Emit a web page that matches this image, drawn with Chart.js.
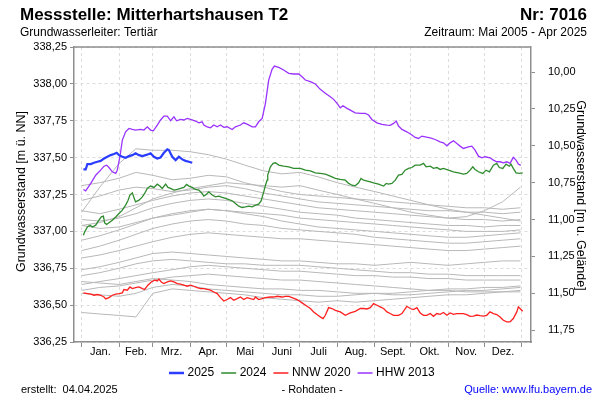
<!DOCTYPE html>
<html><head><meta charset="utf-8">
<script src="https://cdn.jsdelivr.net/npm/chart.js@4.4.1/dist/chart.umd.min.js"></script>
<style>html,body{margin:0;padding:0;background:#fff}#wrap{width:600px;height:400px}</style>
</head><body><div id="wrap"><canvas id="c" width="600" height="400"></canvas></div>
<script>
// ---- axis / labels ----
const GROUND = 348.08;
const monthNames = ['Jan.','Feb.','Mrz.','Apr.','Mai','Juni','Juli','Aug.','Sept.','Okt.','Nov.','Dez.'];
const monthStarts = [0,31,59,90,120,151,181,212,243,273,304,334,365];
const leftTicks = [336.25,336.5,336.75,337.0,337.25,337.5,337.75,338.0,338.25];
const rightTicks = [10.0,10.25,10.5,10.75,11.0,11.25,11.5,11.75];

// ---- highlighted series: [day of year, level m ü. NN] ----
const s2025 = [[1.4,337.42],[3.3,337.42],[4.7,337.456],[7.5,337.456],[10.2,337.465],[13,337.472],[15.7,337.478],[18.5,337.494],[21.3,337.506],[24,337.517],[26.8,337.524],[29,337.533],[30.9,337.517],[33.7,337.506],[36.4,337.499],[39.2,337.51],[42,337.517],[44.7,337.529],[47.5,337.517],[50.3,337.51],[53,337.517],[55.7,337.524],[57.1,337.529],[59.9,337.506],[62.7,337.494],[65.4,337.501],[68.2,337.533],[71,337.556],[72.3,337.551],[75.1,337.506],[77.9,337.483],[80.6,337.506],[83.4,337.488],[86.1,337.478],[88.9,337.472],[91.7,337.465]];

const s2024 = [[1.4,336.974],[2.5,336.997],[4.7,337.03],[6.9,337.042],[8.9,337.03],[11.6,337.042],[14.3,337.076],[16.3,337.098],[18,337.103],[19,337.058],[20.7,337.047],[22.6,337.058],[25.4,337.076],[28.2,337.098],[30.9,337.121],[33.7,337.144],[36.4,337.178],[38.3,337.207],[40,337.246],[42,337.261],[43.3,337.23],[44.7,337.2],[47.5,337.212],[50.3,337.234],[52.2,337.257],[54.4,337.291],[57.1,337.307],[59.9,337.298],[62.7,337.32],[64.8,337.307],[66.8,337.291],[69.6,337.32],[71.5,337.298],[73.7,337.291],[76.5,337.28],[79.3,337.284],[82,337.291],[84.7,337.298],[87,337.318],[88.9,337.307],[91.7,337.298],[94.4,337.284],[97.2,337.28],[99.9,337.257],[101.3,337.239],[103.5,337.252],[105.4,337.268],[108.2,337.246],[111,337.234],[113.7,337.239],[116.5,337.23],[119.3,337.223],[122,337.216],[124.8,337.207],[127.5,337.189],[130.3,337.171],[133.1,337.162],[135.8,337.166],[138.6,337.171],[141.4,337.166],[144.1,337.178],[146.8,337.184],[148.8,337.207],[151,337.268],[152.4,337.313],[153.8,337.347],[154.3,337.381],[156.5,337.438],[158.8,337.461],[160.7,337.465],[163.4,337.449],[167.5,337.442],[171.7,337.438],[175.8,337.427],[181.4,337.427],[185.5,337.415],[189.7,337.41],[193.8,337.397],[197.9,337.393],[202.1,337.388],[206.2,337.375],[210.4,337.359],[214.5,337.352],[218.7,337.347],[221.4,337.325],[224.2,337.313],[226.9,337.309],[229.7,337.329],[231.7,337.359],[233.8,337.347],[236.1,337.343],[239.4,337.336],[242.1,337.329],[246.2,337.32],[250.4,337.307],[252.6,337.325],[254.5,337.32],[257.3,337.325],[260.1,337.347],[262.8,337.381],[265.6,337.386],[268.3,337.415],[271.1,337.427],[273.9,337.433],[276.6,337.449],[280.8,337.449],[283.5,337.461],[285.7,337.438],[289.1,337.442],[291.8,337.427],[294.6,337.433],[297.3,337.42],[300.1,337.427],[304.2,337.415],[308.4,337.404],[312.5,337.397],[316.6,337.388],[319.4,337.393],[322.2,337.415],[324.4,337.438],[326.3,337.42],[329.1,337.404],[332.7,337.393],[335.4,337.415],[338.2,337.404],[341.5,337.449],[344.3,337.461],[346.4,337.433],[349.3,337.427],[352,337.456],[354.7,337.442],[356.1,337.456],[358,337.427],[360.3,337.397],[363,337.393],[365.8,337.397]];

const sNNW2020 = [[1.4,336.583],[4.7,336.578],[7.5,336.574],[10.2,336.567],[13,336.572],[15.7,336.567],[18.5,336.555],[19.9,336.542],[22.6,336.551],[25.4,336.567],[28.2,336.574],[30.9,336.578],[33.7,336.583],[35,336.606],[37.8,336.601],[40,336.623],[42,336.612],[44.7,336.619],[47.5,336.623],[50.3,336.612],[52.2,336.606],[54.9,336.635],[57.7,336.657],[60.5,336.669],[62.7,336.664],[64,336.677],[66,336.657],[68.2,336.646],[71,336.657],[73.7,336.664],[76.5,336.657],[79.3,336.646],[82,336.642],[84.7,336.635],[87.5,336.628],[90.3,336.635],[93,336.628],[95.8,336.619],[98.6,336.612],[101.3,336.612],[104.1,336.606],[106.8,336.601],[109.6,336.589],[112.4,336.578],[115.1,336.551],[117.9,336.528],[120.6,336.538],[123.4,336.551],[126.1,336.533],[129,336.544],[131.7,336.555],[134.4,336.538],[137.2,336.551],[140,336.544],[142.7,336.538],[144.1,336.555],[146.8,336.538],[149.7,336.544],[152.4,336.551],[156.5,336.555],[159.3,336.555],[162.1,336.56],[166.2,336.555],[169,336.56],[171.7,336.56],[174.5,336.551],[178.6,336.538],[182.8,336.515],[186.9,336.492],[189.7,336.477],[192.4,336.454],[195.2,336.436],[197.9,336.42],[200.2,336.409],[202.1,336.431],[204.8,336.483],[207.6,336.477],[210.4,336.465],[214.5,336.454],[218.7,336.431],[222.8,336.447],[226.9,336.458],[231.1,336.477],[233.8,336.477],[236.6,336.474],[239.4,336.483],[242.1,336.511],[244.9,336.499],[247.6,336.488],[250.4,336.477],[253.2,336.454],[255.9,336.443],[258.7,336.431],[262.8,336.431],[265.6,336.443],[269.7,336.492],[272.5,336.477],[275.2,336.47],[278,336.483],[280.8,336.447],[283.5,336.431],[286.3,336.431],[289.1,336.443],[291.8,336.424],[294.6,336.443],[297.3,336.438],[300.1,336.45],[302.9,336.431],[305.6,336.447],[308.4,336.438],[311.2,336.443],[313.9,336.443],[316.6,336.443],[319.4,336.436],[322.2,336.424],[324.9,336.426],[327.7,336.433],[330.5,336.429],[333.2,336.426],[336,336.431],[338.7,336.454],[341.5,336.443],[344.3,336.436],[347,336.42],[349.8,336.397],[352.6,336.386],[355.3,336.386],[358,336.409],[360.9,336.454],[362.2,336.488],[363.6,336.477],[365.8,336.458]];

const sHHW2013 = [[1.4,337.284],[3.3,337.275],[7.5,337.325],[11.6,337.381],[15.7,337.415],[18.5,337.442],[20.7,337.449],[22.6,337.433],[25.4,337.404],[28.2,337.393],[29.5,337.415],[31.7,337.506],[33.7,337.619],[36.4,337.675],[39.2,337.698],[42,337.691],[44.7,337.687],[48.9,337.691],[51.6,337.687],[54.4,337.709],[57.1,337.687],[59.4,337.682],[62.7,337.721],[65.4,337.755],[68.2,337.782],[71,337.782],[73.7,337.75],[76.5,337.777],[78.7,337.75],[82,337.759],[84.7,337.755],[87.5,337.766],[90.3,337.759],[94.4,337.748],[97.2,337.736],[99.9,337.743],[101.3,337.721],[104.1,337.709],[106.8,337.702],[109.6,337.721],[112.4,337.709],[115.1,337.721],[117.9,337.705],[120.6,337.709],[124.8,337.691],[127.5,337.709],[131.7,337.721],[134.4,337.736],[137.2,337.727],[141.4,337.709],[144.1,337.709],[146.8,337.743],[149.7,337.766],[152.4,337.868],[155.1,338.026],[157.9,338.099],[159.8,338.121],[163.4,338.112],[167.5,338.094],[171.7,338.071],[175.8,338.067],[180,338.067],[182.8,338.048],[185.5,338.026],[189.7,338.015],[193.8,337.999],[197.9,337.963],[202.1,337.936],[206.2,337.913],[209,337.895],[211.8,337.868],[214.5,337.838],[216.7,337.852],[220.1,337.834],[222.8,337.822],[226.9,337.804],[231.1,337.8],[235.2,337.8],[238,337.789],[240.7,337.759],[244.9,337.736],[249,337.725],[253.2,337.721],[255.9,337.719],[258.7,337.732],[260.9,337.748],[262.8,337.714],[265.6,337.691],[269.7,337.675],[273.9,337.653],[276.6,337.637],[279.4,337.63],[282.2,337.646],[284.9,337.641],[289.1,337.634],[293.2,337.623],[297.3,337.607],[300.1,337.6],[302.9,337.58],[305.6,337.6],[308.4,337.614],[311.2,337.596],[313.9,337.578],[316.6,337.562],[320.8,337.573],[323.6,337.578],[326.3,337.551],[329.1,337.51],[331.9,337.499],[334.6,337.506],[338.7,337.499],[341.5,337.483],[344.3,337.472],[347,337.472],[349.8,337.465],[352.6,337.472],[355.3,337.461],[358,337.502],[360.3,337.483],[362.2,337.456],[364.2,337.447]];

// ---- other years (grey), sampled on greyDays ----
const greyDays = [0,15,31,45,59,75,90,105,120,135,151,166,181,196,212,227,243,258,273,288,304,319,334,349,364];
const grey01 = [337.13,337.30,337.46,337.56,337.55,337.55,337.54,337.52,337.49,337.45,337.41,337.39,337.40,337.37,337.33,337.30,337.27,337.24,337.21,337.18,337.15,337.13,337.11,337.09,337.07];
const grey02 = [337.04,337.06,337.10,337.16,337.22,337.26,337.29,337.31,337.33,337.32,337.31,337.30,337.31,337.28,337.25,337.22,337.19,337.16,337.13,337.11,337.09,337.10,337.14,337.20,337.30];
const grey03 = [337.31,337.33,337.36,337.40,337.38,337.35,337.36,337.38,337.37,337.33,337.30,337.27,337.25,337.24,337.23,337.22,337.21,337.20,337.19,337.18,337.17,337.16,337.16,337.15,337.16];
const grey04 = [337.21,337.24,337.28,337.30,337.29,337.27,337.28,337.30,337.31,337.29,337.26,337.24,337.22,337.20,337.19,337.18,337.17,337.16,337.15,337.14,337.14,337.13,337.13,337.12,337.13];
const grey05 = [337.14,337.12,337.15,337.18,337.21,337.24,337.26,337.27,337.26,337.24,337.22,337.20,337.18,337.16,337.15,337.14,337.13,337.12,337.11,337.10,337.09,337.08,337.08,337.07,337.08];
const grey06 = [337.08,337.07,337.09,337.12,337.16,337.19,337.21,337.22,337.21,337.19,337.17,337.15,337.13,337.12,337.11,337.09,337.08,337.07,337.06,337.05,337.04,337.04,337.03,337.04,337.04];
const grey07 = [337.04,337.02,337.03,337.06,337.09,337.11,337.13,337.15,337.14,337.13,337.12,337.11,337.09,337.08,337.07,337.06,337.05,337.04,337.03,337.02,337.01,337.00,337.00,337.00,337.01];
const grey08 = [336.94,336.97,337.01,337.05,337.09,337.12,337.14,337.15,337.14,337.12,337.10,337.07,337.05,337.03,337.02,337.01,337.00,336.99,336.98,336.97,336.96,336.96,336.97,336.98,336.99];
const grey09 = [336.87,336.90,336.94,336.98,337.02,337.05,337.07,337.08,337.07,337.05,337.04,337.02,337.01,337.00,336.99,336.98,336.96,336.95,336.94,336.93,336.92,336.92,336.93,336.94,336.95];
const grey10 = [336.82,336.84,336.87,336.90,336.93,336.96,336.98,336.99,336.98,336.97,336.96,336.95,336.95,336.94,336.93,336.92,336.91,336.90,336.89,336.88,336.87,336.87,336.88,336.89,336.90];
const grey11 = [336.74,336.76,336.79,336.82,336.85,336.86,336.85,336.84,336.83,336.82,336.81,336.80,336.80,336.79,336.78,336.78,336.77,336.78,336.79,336.78,336.77,336.78,336.79,336.80,336.80];
const grey12 = [336.70,336.72,336.75,336.78,336.80,336.81,336.80,336.79,336.78,336.78,336.77,336.77,336.77,336.76,336.75,336.74,336.73,336.72,336.72,336.71,336.71,336.70,336.70,336.70,336.70];
const grey13 = [336.64,336.66,336.68,336.70,336.72,336.74,336.76,336.77,336.76,336.75,336.74,336.73,336.73,336.72,336.71,336.70,336.70,336.69,336.69,336.68,336.68,336.67,336.67,336.67,336.67];
const grey14 = [336.60,336.62,336.63,336.65,336.67,336.69,336.70,336.71,336.70,336.69,336.68,336.67,336.67,336.66,336.65,336.64,336.63,336.62,336.61,336.60,336.60,336.59,336.59,336.59,336.59];
const grey15 = [336.66,336.65,336.64,336.66,336.68,336.67,336.66,336.64,336.63,336.62,336.61,336.61,336.60,336.60,336.59,336.58,336.58,336.57,336.57,336.58,336.59,336.60,336.60,336.61,336.62];
const grey16 = [336.58,336.57,336.56,336.58,336.62,336.64,336.63,336.61,336.60,336.59,336.58,336.57,336.57,336.56,336.56,336.57,336.58,336.58,336.59,336.60,336.61,336.61,336.62,336.62,336.63];
const grey17 = [336.45,336.44,336.43,336.42,336.58,336.61,336.60,336.59,336.58,336.57,336.55,336.54,336.53,336.52,336.53,336.52,336.53,336.54,336.55,336.56,336.57,336.57,336.58,336.59,336.60];

// ---- build ----
const FONT = "'Liberation Sans', Arial, sans-serif";
const toXY = pairs => pairs.map(p => ({x: p[0], y: p[1]}));
const greyXY = arr => arr.map((v, i) => ({x: greyDays[i], y: v}));
const greys = [grey01,grey02,grey03,grey04,grey05,grey06,grey07,grey08,grey09,grey10,grey11,grey12,grey13,grey14,grey15,grey16,grey17];
const legendItems = [
  {label:'2025', color:'#2b3dff', width:2.5},
  {label:'2024', color:'#2e8b2e', width:1.5},
  {label:'NNW 2020', color:'#ff1f1f', width:1.5},
  {label:'HHW 2013', color:'#9a33ff', width:1.5}
];
const datasets = [
  {label:'2025', data: toXY(s2025), borderColor: legendItems[0].color, borderWidth: 2.2},
  {label:'2024', data: toXY(s2024), borderColor: legendItems[1].color, borderWidth: 1.3},
  {label:'NNW 2020', data: toXY(sNNW2020), borderColor: legendItems[2].color, borderWidth: 1.3},
  {label:'HHW 2013', data: toXY(sHHW2013), borderColor: legendItems[3].color, borderWidth: 1.3}
].concat(greys.map((g, i) => ({label: 'grey' + (i+1), data: greyXY(g), borderColor: '#b8b8b8', borderWidth: 1})));

const fmt = v => Number(v).toFixed(2).replace('.', ',');
const mids = monthStarts.slice(0, 12).map((d, i) => (d + monthStarts[i+1]) / 2);
const FRAME = '#8e8e8e';
const GRID = '#dcdcdc';

const textPlugin = {
  id: 'texts',
  afterDraw(chart) {
    const ctx = chart.ctx, a = chart.chartArea;
    ctx.save();
    ctx.strokeStyle = FRAME; ctx.lineWidth = 1.5;
    ctx.beginPath(); ctx.moveTo(a.left, a.top); ctx.lineTo(a.right, a.top); ctx.stroke();
    ctx.fillStyle = '#000';
    ctx.textBaseline = 'middle';
    ctx.font = 'bold 17px ' + FONT;
    ctx.textAlign = 'left'; ctx.fillText('Messstelle: Mitterhartshausen T2', 20, 15);
    ctx.textAlign = 'right'; ctx.fillText('Nr: 7016', 587, 15);
    ctx.font = '12px ' + FONT;
    ctx.textAlign = 'left'; ctx.fillText('Grundwasserleiter: Tertiär', 20, 33);
    ctx.textAlign = 'right'; ctx.fillText('Zeitraum: Mai 2005 - Apr 2025', 587, 33);
    // axis titles
    ctx.font = '12.5px ' + FONT; ctx.textAlign = 'center';
    ctx.save(); ctx.translate(22, (a.top + a.bottom) / 2 - 3); ctx.rotate(-Math.PI / 2);
    ctx.fillText('Grundwasserstand [m ü. NN]', 0, 0); ctx.restore();
    ctx.save(); ctx.translate(580, (a.top + a.bottom) / 2 + 1); ctx.rotate(Math.PI / 2);
    ctx.fillText('Grundwasserstand [m u. Gelände]', 0, 0); ctx.restore();
    // legend
    ctx.font = '12px ' + FONT; ctx.textAlign = 'left';
    let x = 169; const ly = 373;
    legendItems.forEach(it => {
      ctx.strokeStyle = it.color; ctx.lineWidth = it.width;
      ctx.beginPath(); ctx.moveTo(x, ly); ctx.lineTo(x + 15, ly); ctx.stroke();
      x += 18.5;
      ctx.fillStyle = '#000'; ctx.fillText(it.label, x, ly);
      x += ctx.measureText(it.label).width + 7;
    });
    // footer
    ctx.font = '11px ' + FONT; ctx.fillStyle = '#000';
    ctx.textAlign = 'left'; ctx.fillText('erstellt:  04.04.2025', 21, 390);
    ctx.textAlign = 'center'; ctx.fillText('- Rohdaten -', 312, 390);
    ctx.textAlign = 'right'; ctx.fillStyle = '#0000ff'; ctx.fillText('Quelle: www.lfu.bayern.de', 592, 390);
    ctx.restore();
  }
};

new Chart(document.getElementById('c'), {
  type: 'line',
  data: { datasets },
  plugins: [textPlugin],
  options: {
    responsive: false, animation: false, devicePixelRatio: 1,
    parsing: false, normalized: true,
    layout: { padding: { top: 47, left: 0, right: 0, bottom: 0 } },
    plugins: { legend: { display: false }, tooltip: { enabled: false } },
    elements: { point: { radius: 0 }, line: { tension: 0, fill: false } },
    scales: {
      x: {
        type: 'linear', position: 'bottom', min: -6.4, max: 372.7, weight: 0,
        afterBuildTicks: s => { s.ticks = monthStarts.map(v => ({ value: v })); },
        ticks: { display: false },
        grid: { color: GRID, lineWidth: 1, tickColor: FRAME, tickLength: 5, drawTicks: true },
        border: { display: true, color: FRAME, width: 1.5, dash: [3, 3] },
        afterFit: s => { s.height = 0; }
      },
      xm: {
        type: 'linear', position: 'bottom', min: -6.4, max: 372.7, weight: 1,
        afterBuildTicks: s => { s.ticks = mids.map(v => ({ value: v })); },
        ticks: { callback: (v, i) => monthNames[i], font: { size: 11, family: FONT }, color: '#000', padding: 3, maxRotation: 0, autoSkip: false },
        grid: { display: false, drawTicks: false },
        border: { display: false },
        afterFit: s => { s.height = 58; }
      },
      y: {
        position: 'left', min: 336.25, max: 338.25,
        afterBuildTicks: s => { s.ticks = leftTicks.map(v => ({ value: v })); },
        ticks: { callback: v => fmt(v), font: { size: 11, family: FONT }, color: '#000', padding: 3, autoSkip: false },
        grid: { color: GRID, lineWidth: 1, tickColor: FRAME, tickLength: 4 },
        border: { color: FRAME, width: 1.5, dash: [3, 3] },
        afterFit: s => { s.width = 74; }
      },
      y2: {
        position: 'right', reverse: true, min: GROUND - 338.25, max: GROUND - 336.25,
        afterBuildTicks: s => { s.ticks = rightTicks.map(v => ({ value: v })); },
        ticks: { callback: v => fmt(v), font: { size: 11, family: FONT }, color: '#000', padding: 13, autoSkip: false },
        grid: { drawOnChartArea: false, tickColor: FRAME, tickLength: 4 },
        border: { color: FRAME, width: 1.5 },
        afterFit: s => { s.width = 69; }
      }
    }
  }
});
</script>
</body></html>
